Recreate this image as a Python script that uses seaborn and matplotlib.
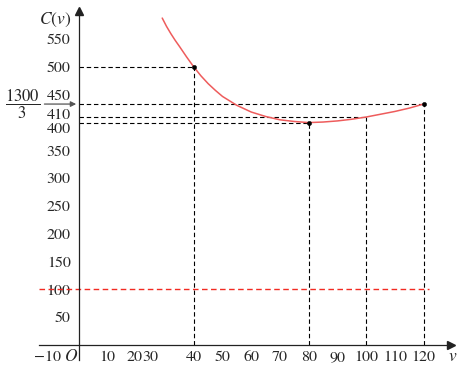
import numpy as np
import pandas as pd
import matplotlib
matplotlib.use('Agg')
import matplotlib.pyplot as plt
import matplotlib.transforms as mtransforms
import seaborn as sns

# curve C(v)
v_curve = [29, 30.5, 32, 33.5, 35, 37.5, 40, 42.5, 45, 47.5, 50, 55, 60, 65, 70, 75, 80,
           85, 90, 95, 100, 105, 110, 115, 120]
c_curve = [588, 573, 560, 548, 537, 518, 500, 484, 470, 458, 447, 431, 419, 411, 405, 402, 400,
           401, 403, 406, 410, 415, 420, 426, 433.3]

# marked points and their guide lines
v_key = [40, 80, 100, 120]
c_key = [500, 400, 410, 1300 / 3]
v_dot = [40, 80, 120]
c_dot = [500, 400, 1300 / 3]

ref_level = 100

x_ticks = [-10, 10, 20, 30, 40, 50, 60, 70, 80, 90, 100, 110, 120]
x_labels = ['\u221210', '10', '20', '30', '40', '50', '60', '70', '80', '90', '100', '110', '120']
y_ticks = [50, 100, 150, 200, 250, 300, 350, 400, 410, 450, 500, 550]

sns.set_style('white')
plt.rcParams['font.family'] = ['STIXGeneral', 'DejaVu Serif']
plt.rcParams['mathtext.fontset'] = 'stix'

fig = plt.figure(figsize=(4.64, 3.70), dpi=100)
ax = fig.add_axes([0, 0, 1, 1])
ax.set_xlim(-27.5, 134.1)
ax.set_ylim(-45, 620.5)

df = pd.DataFrame({'v': v_curve, 'C': c_curve})
sns.lineplot(data=df, x='v', y='C', color='#ee5c5c', lw=1.1, ax=ax, zorder=3)

dash = dict(color='k', lw=0.8, dashes=(4, 2.5), zorder=2)
for v, c in zip(v_key, c_key):
    ax.plot([0, v], [c, c], **dash)
    ax.plot([v, v], [0, c], **dash)

ax.hlines(ref_level, -14, 122, colors='#f22a22', lw=1.0, linestyles=(0, (4, 2.5)), zorder=2)

sns.scatterplot(x=v_dot, y=c_dot, color='k', s=10, ax=ax, zorder=5, edgecolor='k')

# axes through the origin
for s in ['top', 'right']:
    ax.spines[s].set_visible(False)
ax.spines['left'].set_position(('data', 0))
ax.spines['bottom'].set_position(('data', 0))
ax.spines['left'].set_bounds(-27, 600)
ax.spines['bottom'].set_bounds(-14, 129)
for s in ['left', 'bottom']:
    ax.spines[s].set_linewidth(0.9)
    ax.spines[s].set_color('#222222')
ax.plot(129.5, 0, marker='>', color='#222222', ms=6, clip_on=False)
ax.plot(0, 600, marker='^', color='#222222', ms=6, clip_on=False)

ax.set_xticks(x_ticks)
ax.set_xticklabels(x_labels)
ax.set_yticks(y_ticks)
ax.set_yticklabels([str(t) for t in y_ticks])
ax.tick_params(axis='x', direction='in', length=3, width=0.8, pad=4, labelsize=11.5)
ax.tick_params(axis='y', direction='out', length=3, width=0.8, pad=3, labelsize=11.5)
ax.set_xlabel('')
ax.set_ylabel('')

# nudge crowded labels
for lab, t in zip(ax.get_xticklabels(), x_ticks):
    if t == 30:
        lab.set_transform(lab.get_transform() + mtransforms.ScaledTranslation(-15 / 100, 0, fig.dpi_scale_trans))
    if t == 20:
        lab.set_transform(lab.get_transform() + mtransforms.ScaledTranslation(-2 / 100, 0, fig.dpi_scale_trans))
    if t == -10:
        lab.set_transform(lab.get_transform() + mtransforms.ScaledTranslation(-3 / 100, 0, fig.dpi_scale_trans))
for lab, t in zip(ax.get_yticklabels(), y_ticks):
    if t == 410:
        lab.set_transform(lab.get_transform() + mtransforms.ScaledTranslation(0, 3 / 100, fig.dpi_scale_trans))
    if t == 400:
        lab.set_transform(lab.get_transform() + mtransforms.ScaledTranslation(0, -5 / 100, fig.dpi_scale_trans))

ax.text(-8.4, 584, r'$C(v)$', ha='center', va='center', fontsize=12.5)
ax.text(130, -21.6, r'$v$', ha='center', va='center', fontsize=12.5)
ax.text(-2.6, -21.6, r'$O$', ha='center', va='center', fontsize=12.5)
ax.text(-19.5, 433.3, r'$\dfrac{1300}{3}$', ha='center', va='center', fontsize=12)
ax.annotate('', xy=(0, 1300 / 3), xytext=(-13, 1300 / 3),
            arrowprops=dict(arrowstyle='-|>', color='#555555', lw=0.9, mutation_scale=8))

fig.savefig('out.png', dpi=100)
